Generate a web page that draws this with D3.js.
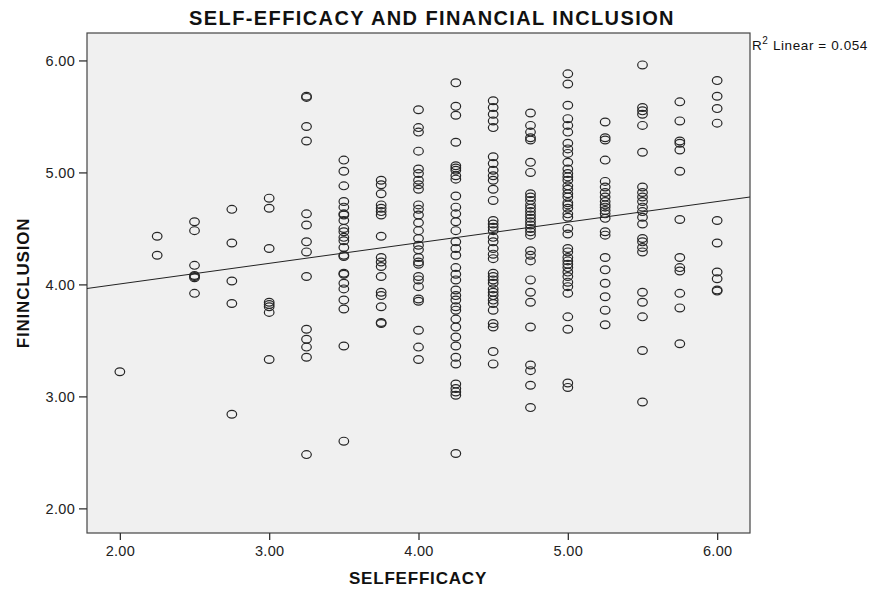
<!DOCTYPE html>
<html>
<head>
<meta charset="utf-8">
<script src="https://cdn.jsdelivr.net/npm/d3@7"></script>
<style>
  body { margin: 0; background: #fff; }
  text { font-family: "Liberation Sans", Arial, sans-serif; }
</style>
</head>
<body>
<svg id="chart" width="872" height="589"></svg>
<script>
// Self-efficacy score levels (x) and FININCLUSION scores observed at each level (y)
const selfEfficacyLevels = [2.00, 2.25, 2.50, 2.75, 3.00, 3.25, 3.50, 3.75, 4.00, 4.25, 4.50, 4.75, 5.00, 5.25, 5.50, 5.75, 6.00];

const finAt200 = [3.22];
const finAt225 = [4.43, 4.26];
const finAt250 = [4.56, 4.48, 4.17, 4.08, 4.07, 4.06, 3.92];
const finAt275 = [4.67, 4.37, 4.03, 3.83, 2.84];
const finAt300 = [4.77, 4.68, 4.32, 3.84, 3.82, 3.80, 3.75, 3.33];
const finAt325 = [5.68, 5.67, 5.41, 5.28, 4.63, 4.53, 4.38, 4.29, 4.07, 3.60, 3.51, 3.44, 3.35, 2.48];
const finAt350 = [5.11, 5.01, 4.88, 4.74, 4.69, 4.63, 4.62, 4.57, 4.50, 4.47, 4.42, 4.39, 4.33, 4.26, 4.25,
                  4.10, 4.09, 4.01, 3.96, 3.86, 3.78, 3.45, 2.60];
const finAt375 = [4.93, 4.89, 4.81, 4.71, 4.68, 4.65, 4.62, 4.43, 4.24, 4.20, 4.16, 4.07, 3.93, 3.90, 3.80, 3.66, 3.65];
const finAt400 = [5.56, 5.40, 5.36, 5.19, 5.03, 4.99, 4.93, 4.89, 4.85, 4.71, 4.67, 4.62, 4.55, 4.48, 4.41,
                  4.35, 4.31, 4.24, 4.20, 4.18, 4.07, 4.04, 3.98, 3.87, 3.85, 3.59, 3.44, 3.33];
const finAt425 = [5.80, 5.59, 5.51, 5.27, 5.06, 5.04, 5.02, 4.97, 4.94, 4.79, 4.69, 4.63, 4.56, 4.48, 4.38,
                  4.32, 4.26, 4.15, 4.09, 4.04, 3.95, 3.90, 3.86, 3.80, 3.77, 3.69, 3.62, 3.53, 3.45, 3.35,
                  3.29, 3.11, 3.07, 3.04, 3.01, 2.49];
const finAt450 = [5.64, 5.58, 5.52, 5.46, 5.40, 5.14, 5.08, 5.02, 4.97, 4.93, 4.85, 4.75, 4.57, 4.54, 4.51,
                  4.48, 4.42, 4.38, 4.32, 4.27, 4.23, 4.10, 4.07, 4.04, 4.01, 3.96, 3.93, 3.90, 3.86, 3.83,
                  3.77, 3.65, 3.62, 3.40, 3.29];
const finAt475 = [5.53, 5.42, 5.36, 5.31, 5.29, 5.09, 5.00, 4.81, 4.78, 4.75, 4.71, 4.68, 4.65, 4.62, 4.59,
                  4.56, 4.53, 4.50, 4.47, 4.44, 4.30, 4.26, 4.21, 4.04, 3.93, 3.84, 3.62, 3.28, 3.23, 3.10, 2.90];
const finAt500 = [5.88, 5.79, 5.60, 5.48, 5.42, 5.36, 5.26, 5.21, 5.17, 5.09, 5.03, 4.99, 4.96, 4.93, 4.88,
                  4.85, 4.81, 4.78, 4.73, 4.71, 4.68, 4.63, 4.60, 4.50, 4.45, 4.32, 4.29, 4.24, 4.21, 4.18,
                  4.15, 4.11, 4.07, 4.02, 3.98, 3.92, 3.71, 3.60, 3.12, 3.08];
const finAt525 = [5.45, 5.31, 5.29, 5.11, 4.92, 4.87, 4.82, 4.78, 4.74, 4.71, 4.69, 4.66, 4.63, 4.59, 4.47,
                  4.44, 4.24, 4.13, 4.01, 3.89, 3.77, 3.64];
const finAt550 = [5.96, 5.58, 5.55, 5.52, 5.42, 5.18, 4.87, 4.82, 4.78, 4.74, 4.69, 4.65, 4.60, 4.54, 4.41,
                  4.38, 4.33, 4.29, 3.93, 3.84, 3.71, 3.41, 2.95];
const finAt575 = [5.63, 5.46, 5.28, 5.26, 5.20, 5.01, 4.58, 4.24, 4.15, 4.12, 3.92, 3.79, 3.47];
const finAt600 = [5.82, 5.68, 5.57, 5.44, 4.57, 4.37, 4.11, 4.05, 3.95, 3.94];

const finByLevel = [finAt200, finAt225, finAt250, finAt275, finAt300, finAt325, finAt350, finAt375, finAt400,
                    finAt425, finAt450, finAt475, finAt500, finAt525, finAt550, finAt575, finAt600];

// Axis ticks
const xTicks = [2, 3, 4, 5, 6];
const yTicks = [2, 3, 4, 5, 6];

// Linear fit line (FININCLUSION = a + b * SELFEFFICACY) and its R²
const fitIntercept = 3.636;
const fitSlope = 0.184;
const rSquared = "0.054";

const points = [];
selfEfficacyLevels.forEach((lv, i) => finByLevel[i].forEach(v => points.push({ x: lv, y: v })));

const svg = d3.select("#chart");
const frame = { left: 87, right: 750, top: 33, bottom: 533 };

const x = d3.scaleLinear().domain([1.78, 6.22]).range([frame.left, frame.right]);
const y = d3.scaleLinear().domain([1.78, 6.245]).range([frame.bottom, frame.top]);

// Plot background and border
svg.append("rect")
  .attr("x", frame.left).attr("y", frame.top)
  .attr("width", frame.right - frame.left).attr("height", frame.bottom - frame.top)
  .attr("fill", "#f0f0f0").attr("stroke", "#444").attr("stroke-width", 1.2);

// Axes
const fmt = d3.format(".2f");
const xAxis = svg.append("g")
  .attr("transform", `translate(0,${frame.bottom})`)
  .call(d3.axisBottom(x).tickValues(xTicks).tickFormat(fmt).tickSize(7).tickSizeOuter(0));
const yAxis = svg.append("g")
  .attr("transform", `translate(${frame.left},0)`)
  .call(d3.axisLeft(y).tickValues(yTicks).tickFormat(fmt).tickSize(8).tickSizeOuter(0));
[xAxis, yAxis].forEach(g => {
  g.select(".domain").remove();
  g.selectAll(".tick line").attr("stroke", "#333").attr("stroke-width", 1.3);
  g.selectAll(".tick text").attr("fill", "#222").style("font-size", "14.5px")
    .style("letter-spacing", "0.3px")
    .style("font-family", "'Liberation Sans', Arial, sans-serif");
});
xAxis.selectAll(".tick text").attr("y", 10).attr("dy", "0.9em");
yAxis.selectAll(".tick text").attr("x", -12);

// Scatter markers
const clip = svg.append("clipPath").attr("id", "plotClip").append("rect")
  .attr("x", frame.left).attr("y", frame.top)
  .attr("width", frame.right - frame.left).attr("height", frame.bottom - frame.top);

svg.append("g")
  .selectAll("ellipse")
  .data(points)
  .join("ellipse")
  .attr("cx", d => x(d.x))
  .attr("cy", d => y(d.y))
  .attr("rx", 4.8)
  .attr("ry", 3.9)
  .attr("fill", "none")
  .attr("stroke", "#262626")
  .attr("stroke-width", 1.2);

// Fit line across the full plot width
const xd = x.domain();
svg.append("line")
  .attr("clip-path", "url(#plotClip)")
  .attr("x1", x(xd[0])).attr("y1", y(fitIntercept + fitSlope * xd[0]))
  .attr("x2", x(xd[1])).attr("y2", y(fitIntercept + fitSlope * xd[1]))
  .attr("stroke", "#222").attr("stroke-width", 1);

// R² annotation
const rText = svg.append("text")
  .attr("x", frame.right + 2).attr("y", 50)
  .style("font-size", "13.5px").style("letter-spacing", "0.6px").attr("fill", "#111");
rText.append("tspan").text("R");
rText.append("tspan").attr("dy", -6).style("font-size", "10px").text("2");
rText.append("tspan").attr("dy", 6).text(" Linear = " + rSquared);

// Title and axis titles
svg.append("text")
  .attr("x", 432).attr("y", 25)
  .attr("text-anchor", "middle")
  .style("font-size", "20px").style("letter-spacing", "1.4px")
  .style("font-weight", "bold").attr("fill", "#111")
  .text("SELF-EFFICACY AND FINANCIAL INCLUSION");

svg.append("text")
  .attr("x", 418).attr("y", 584)
  .attr("text-anchor", "middle")
  .style("font-size", "17px").style("letter-spacing", "0.8px")
  .style("font-weight", "bold").attr("fill", "#111")
  .text("SELFEFFICACY");

svg.append("text")
  .attr("transform", `translate(29,${(frame.top + frame.bottom) / 2}) rotate(-90)`)
  .attr("text-anchor", "middle")
  .style("font-size", "17px").style("letter-spacing", "0.8px")
  .style("font-weight", "bold").attr("fill", "#111")
  .text("FININCLUSION");
</script>
</body>
</html>
